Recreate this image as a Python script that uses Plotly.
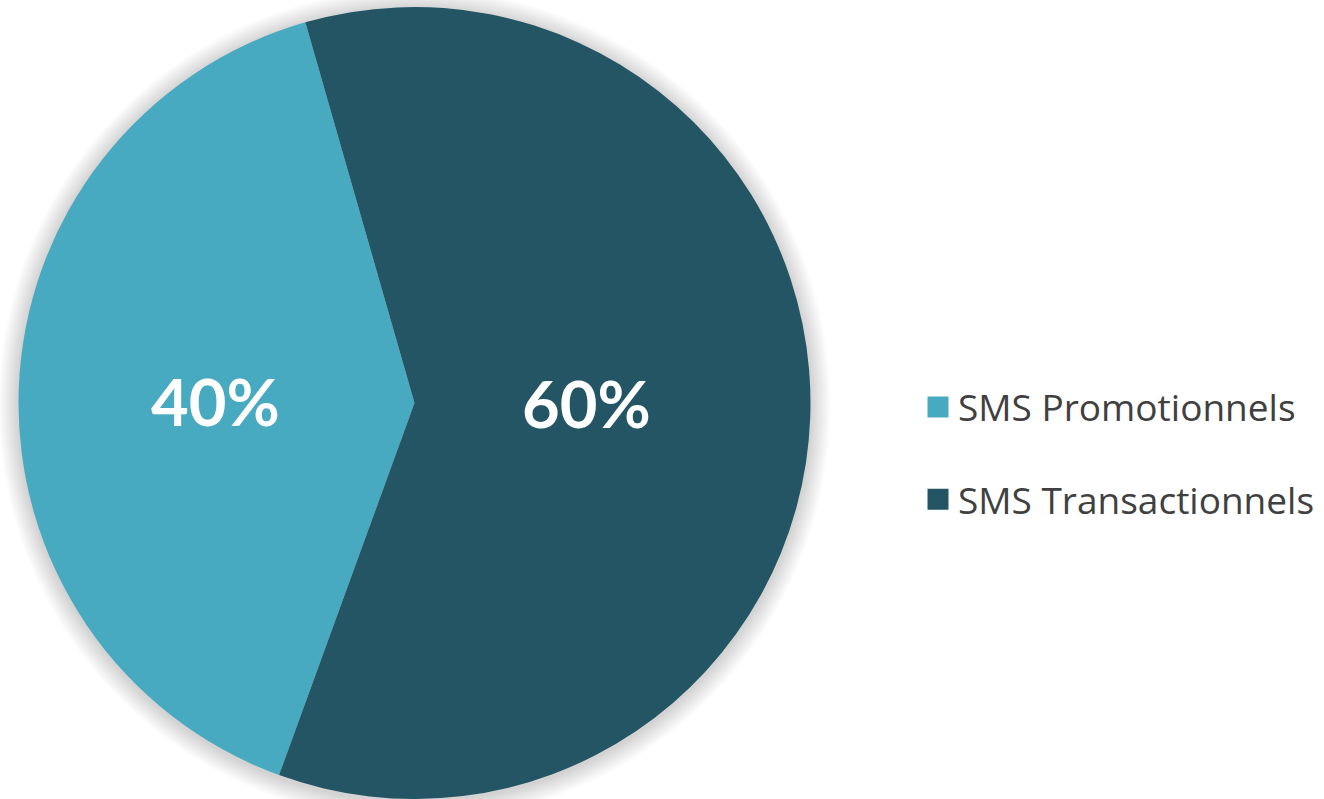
import plotly.graph_objects as go

categories = ["SMS Promotionnels", "SMS Transactionnels"]
values = [40, 60]
colors = ["#48AAC1", "#245564"]

W, H = 1324, 799
cx, cy, r = 414.5, 403, 396
label_pos = [(215, 401), (586.5, 402.5)]

fig = go.Figure()

fig.add_trace(go.Pie(
    labels=categories,
    values=values,
    sort=False,
    direction="clockwise",
    rotation=200,
    marker=dict(colors=colors, line=dict(width=0)),
    textinfo="none",
    domain=dict(x=[(cx - r) / W, (cx + r) / W], y=[1 - (cy + r) / H, 1 - (cy - r) / H]),
    showlegend=False,
    hoverinfo="label+percent",
))

for name, col in zip(categories, colors):
    fig.add_trace(go.Scatter(
        x=[None], y=[None], mode="markers", name=name,
        marker=dict(symbol="square", size=16, color=col, line=dict(color=col, width=5)),
        legendgroup=name, showlegend=True,
    ))

total = sum(values)
annotations = []
for v, (px, py) in zip(values, label_pos):
    annotations.append(dict(
        text=f"{v / total * 100:.0f}%", xref="paper", yref="paper",
        x=px / W, y=1 - py / H, xanchor="center", yanchor="middle",
        showarrow=False,
        font=dict(family="Lato", size=65, color="white", weight="bold"),
    ))

shapes = []
for k in range(1, 12):
    rr = r + k * 1.8
    shapes.append(dict(
        type="circle", xref="paper", yref="paper", layer="below",
        x0=(cx - rr) / W, x1=(cx + rr) / W,
        y0=1 - (cy + rr + 2) / H, y1=1 - (cy - rr + 2) / H,
        fillcolor="rgba(0,0,0,0.014)", line=dict(width=0),
    ))

fig.update_layout(
    width=W, height=H,
    margin=dict(l=0, r=0, t=0, b=0),
    paper_bgcolor="white", plot_bgcolor="white",
    xaxis=dict(visible=False), yaxis=dict(visible=False),
    shapes=shapes,
    annotations=annotations,
    legend=dict(
        x=918 / W, xanchor="left", y=1 - 453.5 / H, yanchor="middle",
        font=dict(family="Open Sans", size=37, color="#404040"),
        tracegroupgap=41, bgcolor="rgba(0,0,0,0)",
    ),
)

fig.write_html("out.html", config={"displayModeBar": False},
               post_script="document.body.style.margin='0';")
